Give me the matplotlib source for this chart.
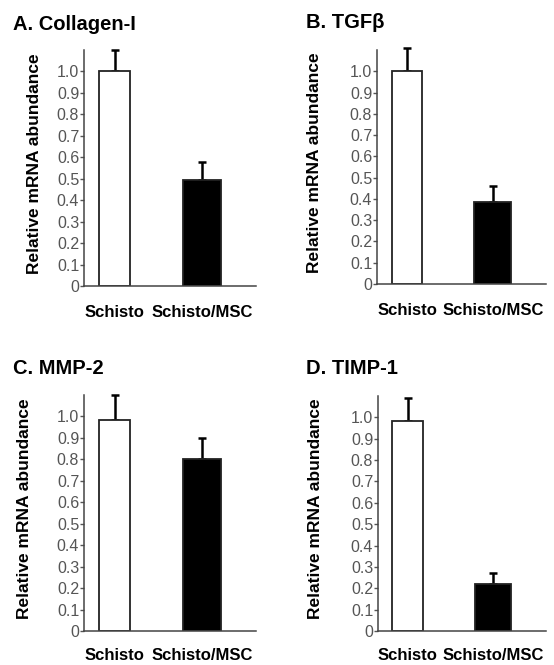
import matplotlib

matplotlib.use("Agg")
import matplotlib.pyplot as plt  # noqa: E402

plt.rcParams["font.family"] = ["Liberation Sans", "DejaVu Sans"]

W, H = 554, 665

groups = ["Schisto", "Schisto/MSC"]
titles = ["A. Collagen-I", "B. TGF\u03b2", "C. MMP-2", "D. TIMP-1"]
collagen_mean = [1.0, 0.495]
collagen_err = [0.10, 0.085]
tgfb_mean = [1.0, 0.385]
tgfb_err = [0.11, 0.075]
mmp2_mean = [0.985, 0.80]
mmp2_err = [0.115, 0.10]
timp1_mean = [0.985, 0.22]
timp1_err = [0.105, 0.05]
yticks = [0, 0.1, 0.2, 0.3, 0.4, 0.5, 0.6, 0.7, 0.8, 0.9, 1.0]
ytick_labels = ["0", "0.1", "0.2", "0.3", "0.4", "0.5", "0.6", "0.7", "0.8", "0.9", "1.0"]

# panel boxes in pixels: left, right, top, bottom, ylabel offset, title x, title baseline, xlabel pad
panels = [
    (84, 256, 50, 286, -42, 13, 30, 14),
    (377, 546, 50, 284, -55, 306, 28, 14),
    (84, 256, 395, 631, -52, 13, 374, 12.5),
    (378, 546, 396, 631, -55, 306, 374, 12.5),
]
means = [collagen_mean, tgfb_mean, mmp2_mean, timp1_mean]
errs = [collagen_err, tgfb_err, mmp2_err, timp1_err]

fig = plt.figure(figsize=(W / 100, H / 100), dpi=100)

for (left, right, top, bottom, lab_off, tx, ty, xpad), title, m, e in zip(panels, titles, means, errs):
    ax = fig.add_axes([left / W, 1 - bottom / H, (right - left) / W, (bottom - top) / H])
    x = [0, 1]
    ax.bar(x, m, width=[0.36, 0.43], color=["white", "black"],
           edgecolor="#222222", linewidth=1.3, zorder=2)
    ax.errorbar(x, m, yerr=[[0, 0], e], fmt="none", ecolor="black",
                elinewidth=1.8, capsize=3, capthick=1.8, zorder=1, clip_on=False)
    ax.set_xlim(-0.35, 1.62)
    ax.set_ylim(0, 1.1)
    ax.set_yticks(yticks)
    ax.set_yticklabels(ytick_labels)
    ax.set_xticks(x)
    ax.set_xticklabels(groups, fontweight="bold", fontsize=12)
    ax.tick_params(axis="y", length=3, width=1, color="#555555", pad=0.5,
                   labelsize=11.5, labelcolor="#555555")
    ax.tick_params(axis="x", length=0, pad=xpad)
    for side in ("top", "right"):
        ax.spines[side].set_visible(False)
    for side in ("left", "bottom"):
        ax.spines[side].set_color("#444444")
        ax.spines[side].set_linewidth(1.1)
    ax.set_ylabel("Relative mRNA abundance", fontweight="bold", fontsize=12.5)
    ax.yaxis.set_label_coords(lab_off / (right - left), 0.52)
    fig.text(tx / W, 1 - ty / H, title, fontweight="bold", fontsize=14.5,
             ha="left", va="baseline")

fig.savefig("out.png", dpi=100)
